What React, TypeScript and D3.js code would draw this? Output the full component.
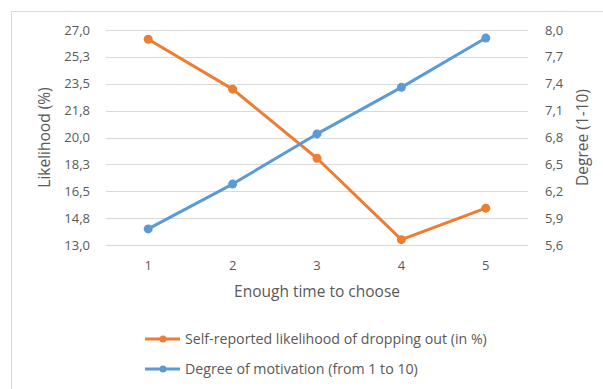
import React from "react";
import * as d3 from "d3";

const categories = ["1", "2", "3", "4", "5"];
const likelihood = [26.4, 23.15, 18.65, 13.35, 15.4];
const motivation = [5.78, 6.28, 6.84, 7.36, 7.91];
const leftTicks = [13.0, 14.75, 16.5, 18.25, 20.0, 21.75, 23.5, 25.25, 27.0];
const rightTicks = [5.6, 5.9, 6.2, 6.5, 6.8, 7.1, 7.4, 7.7, 8.0];
const seriesNames = [
  "Self-reported likelihood of dropping out (in %)",
  "Degree of motivation (from 1 to 10)",
];

const ORANGE = "#ED7D31";
const BLUE = "#5B9BD5";
const TEXT = "#595959";
const GRID = "#D9D9D9";
const FONT = "'Open Sans', sans-serif";

const W = 603;
const H = 389;
const plot = { left: 106, right: 528, top: 30, bottom: 245 };

const fmt = (v: number) => v.toFixed(1).replace(".", ",");

export default function App() {
  const x = d3
    .scaleBand<string>()
    .domain(categories)
    .range([plot.left, plot.right]);
  const cx = (c: string) => (x(c) as number) + x.bandwidth() / 2;
  const yL = d3.scaleLinear().domain([13, 27]).range([plot.bottom, plot.top]);
  const yR = d3.scaleLinear().domain([5.6, 8.0]).range([plot.bottom, plot.top]);

  const lineL = d3
    .line<number>()
    .x((_, i) => cx(categories[i]))
    .y((d) => yL(d));
  const lineR = d3
    .line<number>()
    .x((_, i) => cx(categories[i]))
    .y((d) => yR(d));

  const series = [
    { name: seriesNames[0], color: ORANGE, values: likelihood, line: lineL, y: yL },
    { name: seriesNames[1], color: BLUE, values: motivation, line: lineR, y: yR },
  ];

  return (
    <svg
      width={W}
      height={H}
      style={{ position: "absolute", left: 0, top: 0, background: "#fff" }}
      fontFamily={FONT}
    >
      <rect x={0} y={0} width={W} height={H} fill="#fff" />
      <rect x={11.5} y={11.5} width={W + 20} height={H + 20} fill="none" stroke={GRID} strokeWidth={1} />

      {leftTicks.map((t) => (
        <line
          key={"g" + t}
          x1={plot.left}
          x2={plot.right}
          y1={Math.round(yL(t)) + 0.5}
          y2={Math.round(yL(t)) + 0.5}
          stroke={GRID}
          strokeWidth={1}
        />
      ))}

      {leftTicks.map((t) => (
        <text
          key={"l" + t}
          x={90}
          y={yL(t)}
          dy="0.35em"
          textAnchor="end"
          fontSize={13}
          fill={TEXT}
        >
          {fmt(t)}
        </text>
      ))}
      {rightTicks.map((t) => (
        <text
          key={"r" + t}
          x={545}
          y={yR(t)}
          dy="0.35em"
          textAnchor="start"
          fontSize={13}
          fill={TEXT}
        >
          {fmt(t)}
        </text>
      ))}

      {categories.map((c) => (
        <text key={"x" + c} x={cx(c)} y={265} dy="0.35em" textAnchor="middle" fontSize={13} fill={TEXT}>
          {c}
        </text>
      ))}

      <text
        transform={`translate(45,${(plot.top + plot.bottom) / 2}) rotate(-90)`}
        textAnchor="middle"
        dy="0.35em"
        fontSize={15.5}
        fill={TEXT}
      >
        Likelihood (%)
      </text>
      <text
        transform={`translate(583,${(plot.top + plot.bottom) / 2}) rotate(-90)`}
        textAnchor="middle"
        dy="0.35em"
        fontSize={15.5}
        fill={TEXT}
      >
        Degree  (1-10)
      </text>
      <text x={317} y={292} dy="0.35em" textAnchor="middle" fontSize={15.5} fill={TEXT}>
        Enough time to choose
      </text>

      {series.map((s) => (
        <g key={s.name}>
          <path
            d={s.line(s.values) || ""}
            fill="none"
            stroke={s.color}
            strokeWidth={3}
            strokeLinejoin="round"
            strokeLinecap="round"
          />
          {s.values.map((v, i) => (
            <circle key={i} cx={cx(categories[i])} cy={s.y(v)} r={4.5} fill={s.color} />
          ))}
        </g>
      ))}

      {series.map((s, i) => {
        const ly = 339 + i * 30;
        return (
          <g key={"leg" + i}>
            <line x1={145} x2={180} y1={ly} y2={ly} stroke={s.color} strokeWidth={3} />
            <circle cx={163} cy={ly} r={3.5} fill={s.color} />
            <text x={185} y={ly} dy="0.35em" fontSize={14.2} fill={TEXT}>
              {s.name}
            </text>
          </g>
        );
      })}
    </svg>
  );
}
